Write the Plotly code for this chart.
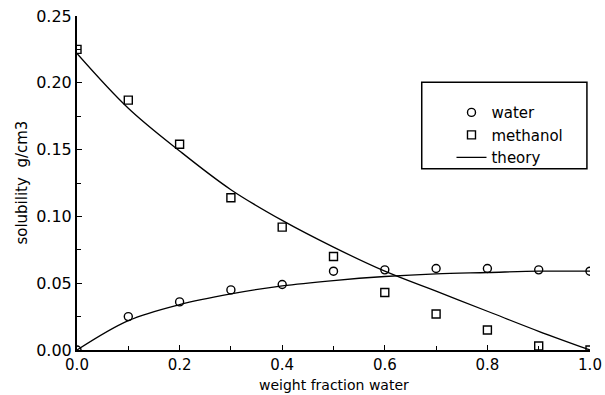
import plotly.graph_objects as go

# Weight fraction of water in the water/methanol solvent
x_frac = [0.0, 0.1, 0.2, 0.3, 0.4, 0.5, 0.6, 0.7, 0.8, 0.9, 1.0]

# Measured solubility (g/cm3)
water_obs = [0.0, 0.025, 0.036, 0.045, 0.049, 0.059, 0.060, 0.061, 0.061, 0.060, 0.059]
methanol_obs = [0.225, 0.187, 0.154, 0.114, 0.092, 0.070, 0.043, 0.027, 0.015, 0.003, 0.0]

# Theoretical curves
water_theory = [0.0, 0.022, 0.034, 0.042, 0.048, 0.052, 0.055, 0.057, 0.058, 0.059, 0.059]
methanol_theory = [0.222, 0.181, 0.149, 0.120, 0.097, 0.077, 0.059, 0.044, 0.029, 0.014, 0.0]

x_ticks = [0.0, 0.2, 0.4, 0.6, 0.8, 1.0]
y_ticks = [0.00, 0.05, 0.10, 0.15, 0.20, 0.25]

x_title = "weight fraction water"
y_title = "solubility  g/cm3"

FONT = "DejaVu Sans"
INK = "black"

fig = go.Figure()

fig.add_trace(go.Scatter(
    x=x_frac, y=water_obs, mode="markers", name="water",
    marker=dict(symbol="circle-open", size=8, color=INK, line=dict(width=1.4, color=INK)),
))
fig.add_trace(go.Scatter(
    x=x_frac, y=methanol_obs, mode="markers", name="methanol",
    marker=dict(symbol="square-open", size=8, color=INK, line=dict(width=1.4, color=INK)),
))
fig.add_trace(go.Scatter(
    x=x_frac, y=water_theory, mode="lines", name="theory", legendgroup="theory",
    line=dict(color=INK, width=1.3, shape="spline"),
))
fig.add_trace(go.Scatter(
    x=x_frac, y=methanol_theory, mode="lines", name="theory", legendgroup="theory",
    showlegend=False, line=dict(color=INK, width=1.3, shape="spline"),
))

axis_common = dict(
    showgrid=False, zeroline=False, showline=True, linecolor=INK, linewidth=2,
    ticks="inside", ticklen=5, tickwidth=1.2, tickcolor=INK,
    mirror=False,
)

fig.update_xaxes(
    range=[0, 1], tickvals=x_ticks, tickformat=".1f",
    tickfont=dict(family=FONT, size=15, color=INK),
    minor=dict(dtick=0.1, ticks="inside", ticklen=4, tickcolor=INK, tickwidth=1.2),
    **axis_common,
)
fig.update_yaxes(
    range=[0, 0.25], tickvals=y_ticks, tickformat=".2f",
    tickfont=dict(family=FONT, size=16, color=INK),
    minor=dict(dtick=0.025, ticks="inside", ticklen=4, tickcolor=INK, tickwidth=1.2),
    **axis_common,
)

# Axis titles placed just beside the tick labels
fig.add_annotation(
    text=x_title, xref="paper", yref="paper", x=0.5, y=-0.105,
    xanchor="center", yanchor="middle", showarrow=False,
    font=dict(family=FONT, size=14, color=INK),
)
fig.add_annotation(
    text=y_title, xref="paper", yref="paper", x=-0.108, y=0.5,
    xanchor="center", yanchor="middle", textangle=-90, showarrow=False,
    font=dict(family=FONT, size=15, color=INK),
)

# Frame around the legend
fig.add_shape(
    type="rect", xref="paper", yref="paper",
    x0=0.672, x1=0.994, y0=0.543, y1=0.802,
    line=dict(color=INK, width=1.5), fillcolor="rgba(0,0,0,0)",
)

fig.update_layout(
    width=605, height=395,
    margin=dict(l=77, r=15, t=16, b=45, autoexpand=False),
    paper_bgcolor="white", plot_bgcolor="white",
    font=dict(family=FONT, color=INK),
    legend=dict(
        x=0.73, y=0.76, xanchor="left", yanchor="top",
        bgcolor="rgba(0,0,0,0)", borderwidth=0,
        font=dict(family=FONT, size=15, color=INK),
        tracegroupgap=0, itemwidth=30,
    ),
)

fig.write_html("out.html")
